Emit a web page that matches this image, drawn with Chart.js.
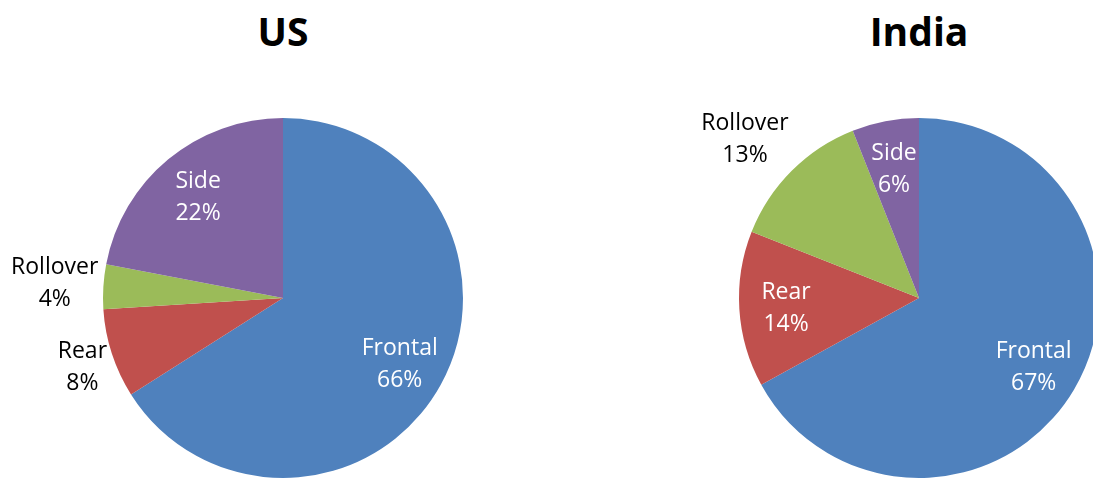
<!DOCTYPE html>
<html>
<head>
<meta charset="utf-8">
<script src="https://cdn.jsdelivr.net/npm/chart.js@4"></script>
<style>
  html, body { margin: 0; padding: 0; background: #fff; width: 1093px; height: 480px; overflow: hidden; }
  .title { position: absolute; top: 4px; width: 300px; text-align: center; font-family: "Open Sans", sans-serif; font-weight: bold; font-size: 39px; color: #000; }
  .pie { position: absolute; top: 0; width: 566px; height: 480px; }
</style>
</head>
<body>
<div class="title" style="left:133px">US</div>
<div class="title" style="left:769px">India</div>
<div class="pie" style="left:0px"><canvas id="usChart"></canvas></div>
<div class="pie" style="left:636px"><canvas id="indiaChart"></canvas></div>
<script>
// crash types, percentages per country
const crashTypes = ["Frontal", "Rear", "Rollover", "Side"];
const usShare = [66, 8, 4, 22];
const indiaShare = [67, 14, 13, 6];
const sliceColors = ["#4F81BD", "#C0504D", "#9BBB59", "#8064A2"];

// draws "Name / NN%" labels, white inside the slice or black beside it
const sliceLabels = {
  id: "sliceLabels",
  afterDatasetsDraw(chart, args, opts) {
    const ctx = chart.ctx;
    const ds = chart.data.datasets[0];
    const lineH = 32;
    ctx.save();
    ctx.font = "23px 'Open Sans', sans-serif";
    ctx.textBaseline = "middle";
    ctx.textAlign = "center";
    chart.getDatasetMeta(0).data.forEach((arc, i) => {
      const p = arc.getProps(["x", "y", "startAngle", "endAngle", "outerRadius"]);
      const a = (p.startAngle + p.endAngle) / 2;
      const lines = [chart.data.labels[i], ds.data[i] + "%"];
      let cx, cy;
      if (opts.placement[i] === "outside") {
        const w = Math.max(...lines.map(t => ctx.measureText(t).width));
        const h = 56;
        const ax = p.x + (p.outerRadius + 5) * Math.cos(a);
        const ay = p.y + (p.outerRadius + 5) * Math.sin(a);
        const clamp = v => Math.max(-1, Math.min(1, v));
        cx = ax + w / 2 * clamp(1.4 * Math.cos(a));
        cy = ay + h / 2 * clamp(1.4 * Math.sin(a));
        ctx.fillStyle = "#000";
      } else {
        cx = p.x + p.outerRadius * 0.74 * Math.cos(a);
        cy = p.y + p.outerRadius * 0.74 * Math.sin(a) + 2;
        ctx.fillStyle = "#fff";
      }
      ctx.fillText(lines[0], cx, cy - lineH / 2);
      ctx.fillText(lines[1], cx, cy + lineH / 2);
    });
    ctx.restore();
  }
};

function makePie(id, values, placement) {
  return new Chart(document.getElementById(id), {
    type: "pie",
    data: {
      labels: crashTypes,
      datasets: [{
        data: values,
        backgroundColor: sliceColors,
        borderWidth: 0
      }]
    },
    options: {
      responsive: true,
      maintainAspectRatio: false,
      animation: false,
      layout: { padding: { top: 118, bottom: 2, left: 103, right: 103 } },
      plugins: {
        legend: { display: false },
        tooltip: { enabled: false },
        sliceLabels: { placement: placement }
      }
    },
    plugins: [sliceLabels]
  });
}

makePie("usChart", usShare, ["inside", "outside", "outside", "inside"]);
makePie("indiaChart", indiaShare, ["inside", "inside", "outside", "inside"]);
</script>
</body>
</html>
